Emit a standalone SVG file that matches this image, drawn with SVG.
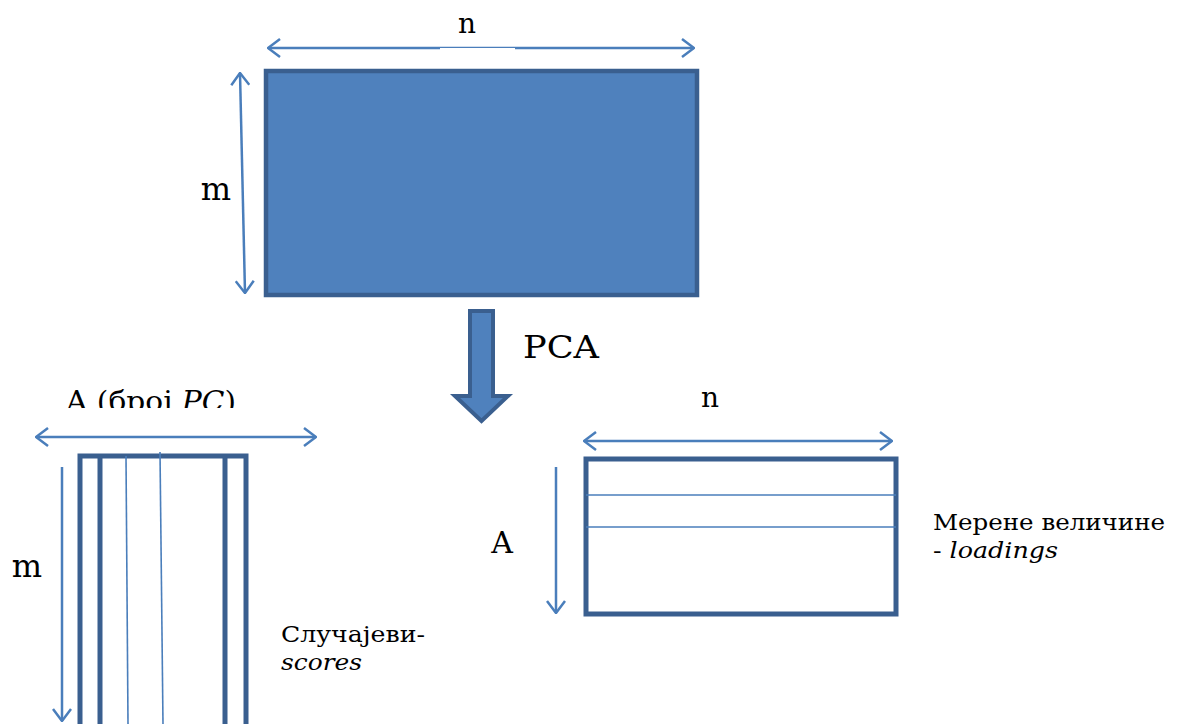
<svg xmlns="http://www.w3.org/2000/svg" width="1177" height="724" viewBox="0 0 1177 724">
<style>
.dim{stroke:#4a7ebb;stroke-width:2.5;fill:none}
.mx{stroke:#3a5f8f;stroke-width:5;fill:#fff}
.thin{stroke:#4a7ebb;stroke-width:1.6;fill:none}
.thick{stroke:#3a5f8f;stroke-width:5;fill:none}
text{font-family:"DejaVu Serif","Liberation Serif",serif;fill:#000}
.it{font-style:italic}
</style>
<defs>
<marker id="ah" viewBox="0 0 14 20" refX="13" refY="10" markerWidth="14" markerHeight="20" markerUnits="userSpaceOnUse" orient="auto-start-reverse">
<polyline points="1,1 13,10 1,19" fill="none" stroke="#4a7ebb" stroke-width="2.5"/>
</marker>
<clipPath id="clipA"><rect x="0" y="370" width="400" height="38"/></clipPath>
</defs>
<g id="connectors">
<line class="dim" x1="268" y1="48" x2="694" y2="48" marker-start="url(#ah)" marker-end="url(#ah)"/>
<rect x="440" y="48" width="75" height="2" fill="#fff"/>
<line class="dim" x1="240" y1="73" x2="245" y2="293" marker-start="url(#ah)" marker-end="url(#ah)"/>
<line class="dim" x1="36" y1="437" x2="316" y2="437" marker-start="url(#ah)" marker-end="url(#ah)"/>
<line class="dim" x1="62" y1="467" x2="62" y2="721" marker-end="url(#ah)"/>
<line class="dim" x1="584" y1="441" x2="892" y2="441" marker-start="url(#ah)" marker-end="url(#ah)"/>
<line class="dim" x1="556" y1="467" x2="556" y2="613" marker-end="url(#ah)"/>
</g>
<g id="data-matrix">
<rect x="266" y="71" width="431" height="224" fill="#4f81bd" stroke="#3a5f8f" stroke-width="4.5"/>
<text x="467" y="33" font-size="28" text-anchor="middle">n</text>
<text x="216" y="200" font-size="32" text-anchor="middle">m</text>
</g>
<g id="pca-arrow">
<path d="M470,311 H493 V396 H508 L481.5,421 L455,396 H470 Z" fill="#4f81bd" stroke="#3a5f8f" stroke-width="4" stroke-linejoin="miter"/>
<text x="523" y="358" font-size="32" textLength="76" lengthAdjust="spacingAndGlyphs">PCA</text>
</g>
<g id="scores-matrix">
<rect class="mx" x="80" y="456" width="166" height="290"/>
<line class="thick" x1="100" y1="456" x2="100" y2="730"/>
<line class="thick" x1="225" y1="456" x2="225" y2="730"/>
<line class="thin" x1="126" y1="456" x2="128" y2="724"/>
<line class="thin" x1="160" y1="452" x2="163" y2="724"/>
<text x="66" y="411" font-size="28" clip-path="url(#clipA)" textLength="170" lengthAdjust="spacingAndGlyphs">A (број <tspan class="it">PC</tspan>)</text>
<text x="27" y="577" font-size="32" text-anchor="middle">m</text>
<text x="281" y="642" font-size="22" textLength="144" lengthAdjust="spacingAndGlyphs">Случајеви-</text>
<text x="281" y="670" font-size="22" class="it" textLength="81" lengthAdjust="spacingAndGlyphs">scores</text>
</g>
<g id="loadings-matrix">
<rect class="mx" x="586" y="459" width="310" height="155"/>
<line class="thin" x1="586" y1="495" x2="896" y2="495"/>
<line class="thin" x1="586" y1="527" x2="896" y2="527"/>
<text x="710" y="407" font-size="28" text-anchor="middle">n</text>
<text x="502" y="553" font-size="30" text-anchor="middle">A</text>
<text x="933" y="530" font-size="22" textLength="232" lengthAdjust="spacingAndGlyphs">Мерене величине</text>
<text x="933" y="558" font-size="22" textLength="125" lengthAdjust="spacingAndGlyphs">- <tspan class="it">loadings</tspan></text>
</g>
</svg>
